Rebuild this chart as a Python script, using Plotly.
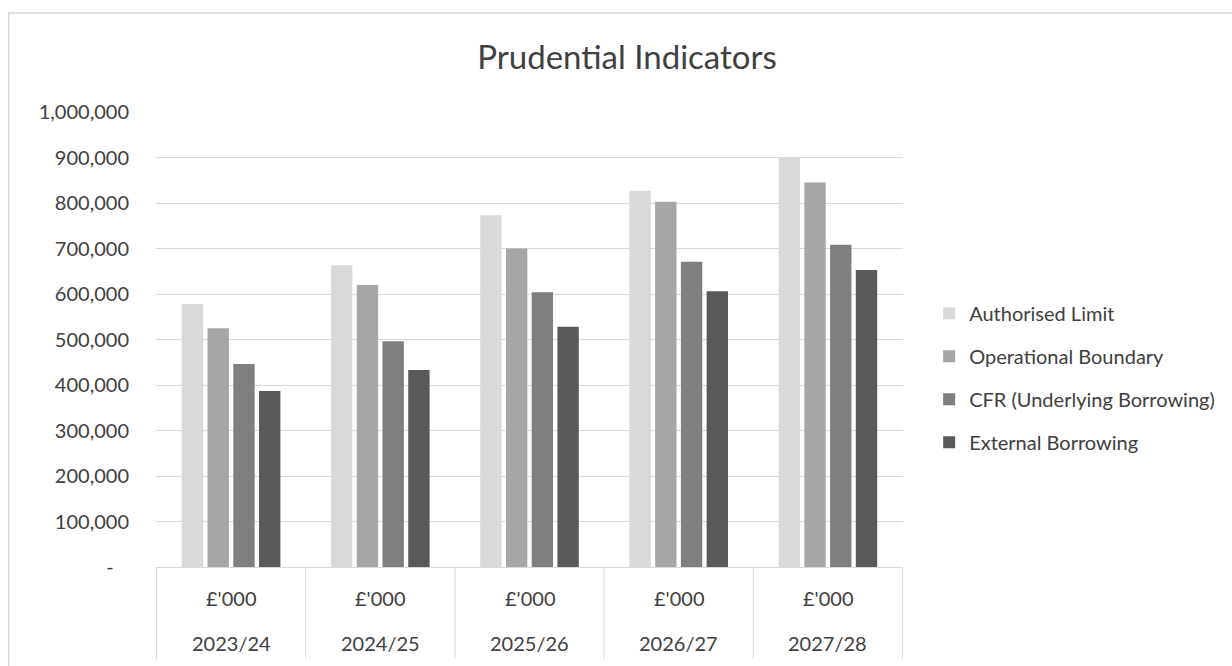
import plotly.graph_objects as go

years = ["2023/24", "2024/25", "2025/26", "2026/27", "2027/28"]
units = ["£'000"] * 5

authorised_limit = [578000, 663000, 773000, 827000, 900000]
operational_boundary = [525000, 620000, 700000, 803000, 845000]
cfr_underlying = [446000, 496000, 604000, 671000, 708000]
external_borrowing = [387000, 433000, 528000, 606000, 653000]

series_names = ["Authorised Limit", "Operational Boundary",
                "CFR (Underlying Borrowing)", "External Borrowing"]
series_colors = ["#d9d9d9", "#a6a6a6", "#7f7f7f", "#595959"]
series_values = [authorised_limit, operational_boundary, cfr_underlying, external_borrowing]

y_tickvals = [0, 100000, 200000, 300000, 400000, 500000, 600000, 700000, 800000, 900000, 1000000]
y_ticktext = ["-\u00a0\u00a0\u00a0", "100,000", "200,000", "300,000", "400,000", "500,000",
              "600,000", "700,000", "800,000", "900,000", "1,000,000"]

FONT = "Lato"
TXT = "#404040"
GRID = "#d9d9d9"

fig = go.Figure()
for i, (name, color, vals) in enumerate(zip(series_names, series_colors, series_values)):
    fig.add_trace(go.Bar(
        x=years, y=vals, name=name,
        marker=dict(color=color, line=dict(width=0)),
        legendgroup=f"g{i}",
    ))

W, H = 1232, 666
L, R, T, B = 156, 325, 112, 99
PH = H - T - B  # plot height in px


def py(px_from_top):
    """convert a pixel row of the page to paper y"""
    return (H - B - px_from_top) / PH


fig.update_layout(
    width=W, height=H,
    margin=dict(l=L, r=R, t=T, b=B),
    paper_bgcolor="white", plot_bgcolor="white",
    barmode="group", bargap=0.31, bargroupgap=0.17,
    font=dict(family=FONT, color=TXT, size=20),
    title=dict(text="Prudential Indicators", x=627 / W, xref="container", xanchor="center",
               y=1 - 57 / H, yref="container", yanchor="middle",
               font=dict(family=FONT, size=33, color=TXT)),
    legend=dict(x=1.035, xanchor="left", y=0.416, yanchor="middle",
                font=dict(family=FONT, size=20, color=TXT),
                traceorder="grouped", tracegroupgap=14, itemwidth=30,
                bgcolor="rgba(0,0,0,0)"),
    showlegend=True,
)

fig.update_yaxes(
    range=[0, 1000000], tickvals=y_tickvals, ticktext=y_ticktext,
    showgrid=True, gridcolor=GRID, gridwidth=1,
    zeroline=False, showline=False,
    ticks="", ticklabelstandoff=26,
    tickfont=dict(family=FONT, size=20, color=TXT),
)

fig.update_xaxes(
    type="category",
    showline=True, linecolor=GRID, linewidth=1,
    showticklabels=False, ticks="", showgrid=False,
)

# two-level category labels (unit row and year row)
for i, (yr, un) in enumerate(zip(years, units)):
    fig.add_annotation(x=yr, xref="x", y=py(598), yref="paper", text=un, showarrow=False,
                       xanchor="center", yanchor="middle",
                       font=dict(family=FONT, size=20, color=TXT))
    fig.add_annotation(x=yr, xref="x", y=py(643), yref="paper", text=yr, showarrow=False,
                       xanchor="center", yanchor="middle",
                       font=dict(family=FONT, size=20, color=TXT))

# category dividers at the boundaries between categories (and the two ends)
for k in range(len(years) + 1):
    fig.add_shape(type="line", xref="x", yref="paper", x0=k - 0.5, x1=k - 0.5,
                  y0=0, y1=py(659), line=dict(color=GRID, width=1))

# Outer chart border (extends past the right and bottom edges as in the reference)
fig.add_shape(type="rect", xref="paper", yref="paper",
              x0=(8 - L) / (W - L - R), x1=1.6,
              y0=-0.5, y1=py(13),
              line=dict(color=GRID, width=1.5), fillcolor="rgba(0,0,0,0)", layer="below")

fig.write_html("out.html")
